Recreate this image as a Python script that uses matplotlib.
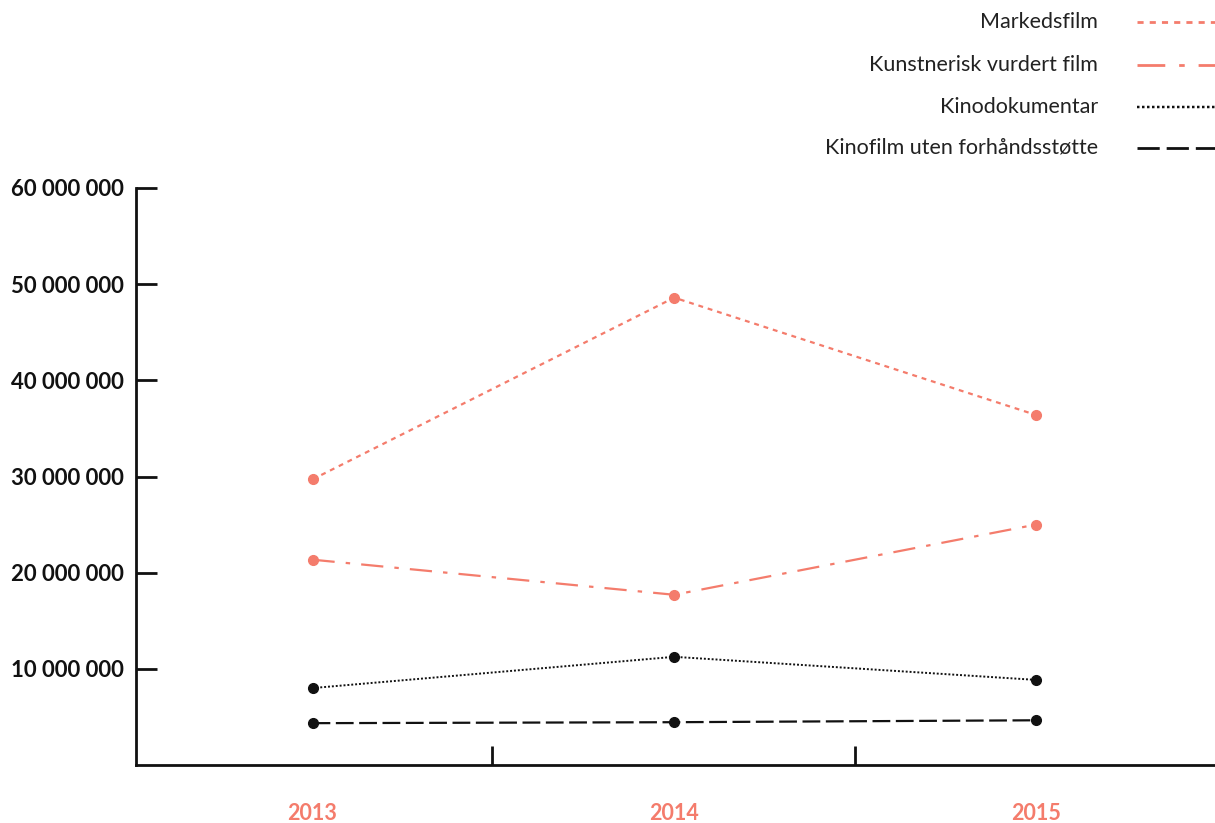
import matplotlib
matplotlib.use("Agg")
import matplotlib.pyplot as plt
from matplotlib.lines import Line2D
from matplotlib.ticker import FuncFormatter

plt.rcParams['font.family'] = ['Lato', 'DejaVu Sans']

years = ["2013", "2014", "2015"]
series_names = ["Markedsfilm", "Kunstnerisk vurdert film", "Kinodokumentar",
                "Kinofilm uten forhåndsstøtte"]
markedsfilm = [29700000, 48600000, 36400000]
kunstnerisk = [21350000, 17700000, 25000000]
kinodok = [8000000, 11250000, 8850000]
uten = [4350000, 4450000, 4650000]
y_ticks = [10000000, 20000000, 30000000, 40000000, 50000000, 60000000]

salmon = "#F47C6C"
black = "#111111"
styles = [
    dict(color=salmon, dashes=(2.2, 2.2), lw=1.6),
    dict(color=salmon, dashes=(10, 5, 2, 5), lw=1.6),
    dict(color=black, dashes=(1, 1), lw=1.4),
    dict(color=black, dashes=(8, 2.5), lw=1.6),
]
data = [markedsfilm, kunstnerisk, kinodok, uten]

W, H = 1215, 823
fig = plt.figure(figsize=(W / 100, H / 100), dpi=100)
ax = fig.add_axes([136 / W, (H - 765) / H, (W - 136) / W, (765 - 188) / H])

x = list(range(len(years)))
for vals, st in zip(data, styles):
    ax.plot(x, vals, color=st['color'], lw=st['lw'], dashes=st['dashes'],
            marker='o', markersize=7, zorder=3,
            markerfacecolor=st['color'], markeredgecolor=st['color'])

ax.set_ylim(0, 60000000)
ax.set_xlim(-0.488, 2.495)
ax.set_yticks(y_ticks)
ax.yaxis.set_major_formatter(FuncFormatter(lambda v, p: f"{int(v):,}".replace(",", " ")))
for lab in ax.get_yticklabels():
    lab.set_fontweight('bold')
ax.tick_params(axis='y', direction='in', length=15, width=2, labelsize=16,
               pad=9, colors=black)
ax.set_xticks([0.495, 1.5])
ax.set_xticklabels([])
ax.tick_params(axis='x', direction='in', length=14, width=2, colors=black)
for i, yr in enumerate(years):
    ax.text(i, -48 / 577, yr, transform=ax.get_xaxis_transform(), ha='center',
            va='center', color=salmon, fontsize=15.5, fontweight='bold')

for s in ['top', 'right']:
    ax.spines[s].set_visible(False)
for s in ['left', 'bottom']:
    ax.spines[s].set_linewidth(2)
    ax.spines[s].set_color(black)

# legend
rows_y = [22, 65, 107, 148]
for name, st, yy in zip(series_names, styles, rows_y):
    fy = 1 - yy / H
    fig.text(1098 / W, fy, name, ha='right', va='center', fontsize=15.5,
             color="#222222")
    fig.add_artist(Line2D([1137 / W, 1215 / W], [fy, fy], color=st['color'],
                          lw=st['lw'] + 0.4, dashes=st['dashes'],
                          transform=fig.transFigure))

fig.savefig("out.png", dpi=100)
